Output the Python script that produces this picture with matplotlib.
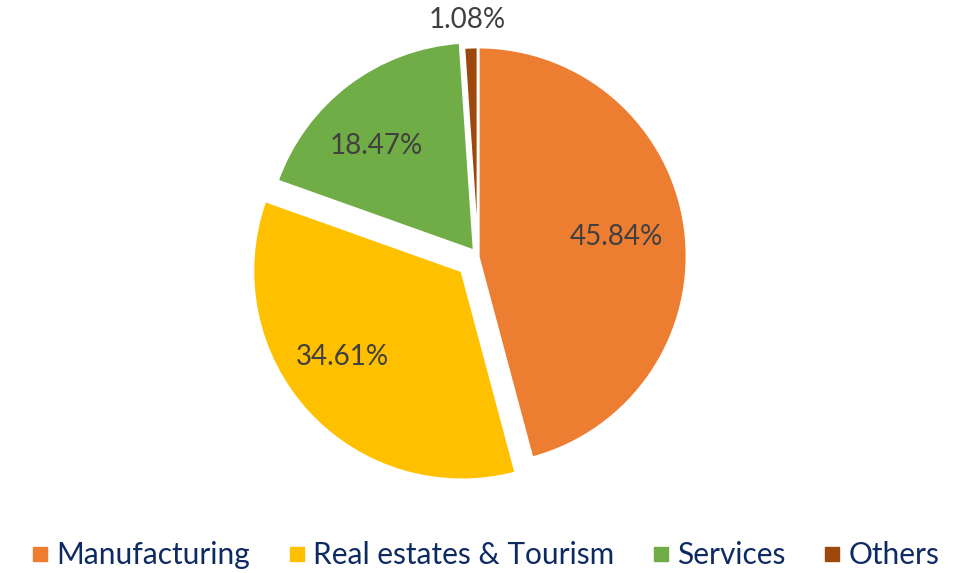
import matplotlib
matplotlib.use("Agg")
import matplotlib.pyplot as plt
from matplotlib.lines import Line2D

# data
sectors = ["Manufacturing", "Real estates & Tourism", "Services", "Others"]
shares = [45.84, 34.61, 18.47, 1.08]
colors = ["#ED7D31", "#FFC000", "#70AD47", "#9E480E"]
explode = [0.0, 0.105, 0.03, 0.0]

plt.rcParams["font.family"] = ["Lato", "DejaVu Sans"]

fig = plt.figure(figsize=(9.69, 5.73), dpi=100)
ax = fig.add_axes([0.2345, 0.1155, 0.5176, 0.8754])

wedges, texts, autotexts = ax.pie(
    shares, colors=colors, explode=explode, startangle=90, counterclock=False,
    autopct=lambda p: f"{p:.2f}%", pctdistance=0.7,
    wedgeprops=dict(edgecolor="white", linewidth=2),
    textprops=dict(color="#404040", fontsize=20),
)
# nudge labels to where the original puts them
for t, (dx, dy) in zip(autotexts[:3], [(-0.03, 0.0), (-0.057, 0.062), (-0.048, -0.057)]):
    x, y = t.get_position()
    t.set_position((x + dx, y + dy))
# small slice label goes outside
autotexts[3].set_position((-0.05, 1.13))

ax.set_xlim(-1.2, 1.2)
ax.set_ylim(-1.2, 1.2)
ax.set_aspect("equal")
ax.axis("off")

handles = [Line2D([], [], marker="s", linestyle="", markersize=10, color=c) for c in colors]
leg = fig.legend(handles, sectors, loc="lower center", bbox_to_anchor=(0.5, -0.04),
                 ncol=4, frameon=False, fontsize=21.5, handletextpad=0.2, columnspacing=1.2,
                 handlelength=0.7)
for t in leg.get_texts():
    t.set_color("#0D2A63")

fig.savefig("out.png", dpi=100)
